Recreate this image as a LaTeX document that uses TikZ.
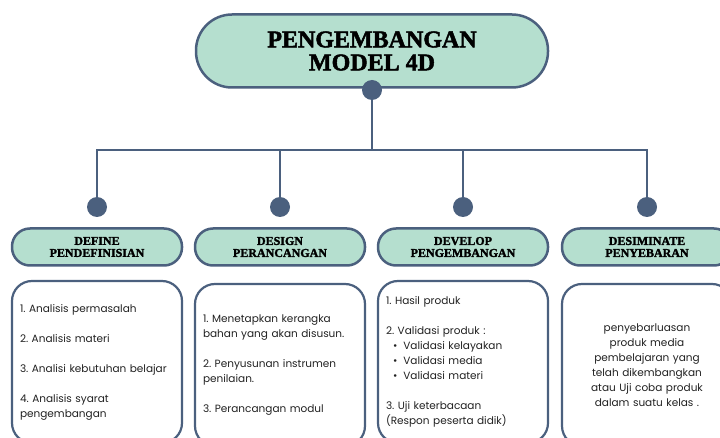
\documentclass[tikz,border=0pt]{standalone}
\usepackage{fontspec}
\setmainfont{Poppins}
\newfontfamily\headfont{Liberation Serif}[BoldFeatures={FakeBold=2}]
\usepackage{tikz}
\usetikzlibrary{calc}
\definecolor{mint}{HTML}{B5DFCF}
\definecolor{slate}{HTML}{4B607E}
\definecolor{ink}{HTML}{222222}
\newcommand{\drawlink}{\draw[slate, line width=2.5pt]}
\frenchspacing

\tikzset{
    titlepill/.style={draw=slate, line width=2.5pt, fill=mint, rounded corners=36pt,
        minimum width=352pt, minimum height=73pt, align=center,
        font=\headfont\bfseries\fontsize{24}{23}\selectfont},
    steppill/.style={draw=slate, line width=2.5pt, fill=mint, rounded corners=18pt,
        minimum width=170pt, minimum height=37pt, align=center,
        font=\headfont\bfseries\fontsize{12}{12}\selectfont},
    stepbox/.style={draw=slate, line width=2.2pt, fill=white, rounded corners=20pt,
        text width=154pt, inner xsep=8pt, minimum height=162pt, align=left,
        text=ink, font=\fontsize{10.5}{15}\selectfont},
    dot/.style={circle, fill=slate, minimum size=20pt, inner sep=0pt}
}

\begin{document}
\begin{tikzpicture}[x=1pt, y=-1pt]
    \useasboundingbox (0,0) rectangle (720,438);

    % Draw title
    \node[titlepill] (title) at (372,51) {PENGEMBANGAN\\MODEL 4D};
    \node[dot] (topdot) at (372,90) {};
    \coordinate (bar) at (372,150);

    % Draw branches
    \foreach \name/\x in {define/97, design/280, develop/463, desiminate/647} {
        \node[dot] (\name dot) at (\x,207) {};
        \drawlink (\name dot.north) |- (bar);
    }
    \drawlink (topdot.south) -- (bar);

    % Draw steps
    \node[steppill] (define) at (97,247) {DEFINE\\PENDEFINISIAN};
    \node[steppill] (design) at (280,247) {DESIGN\\PERANCANGAN};
    \node[steppill] (develop) at (463,247) {DEVELOP\\PENGEMBANGAN};
    \node[steppill] (desiminate) at (647,247) {DESIMINATE\\PENYEBARAN};

    % Draw details
    \node[stepbox] (definebox) at (97,362) {1. Analisis permasalah\\[15pt]
        2. Analisis materi\\[15pt]
        3. Analisi kebutuhan belajar\\[15pt]
        4. Analisis syarat\\pengembangan};
    \node[stepbox] (designbox) at (280,365) {1. Menetapkan kerangka\\bahan yang akan disusun.\\[15pt]
        2. Penyusunan instrumen\\penilaian.\\[15pt]
        3. Perancangan modul};
    \node[stepbox] (developbox) at (463,362) {1. Hasil produk\\[15pt]
        2. Validasi produk :\\
        \hspace*{7pt}\textbullet\hspace{6pt}Validasi kelayakan\\
        \hspace*{7pt}\textbullet\hspace{6pt}Validasi media\\
        \hspace*{7pt}\textbullet\hspace{6pt}Validasi materi\\[15pt]
        3. Uji keterbacaan\\(Respon peserta didik)};
    \node[stepbox, align=center] (desiminatebox) at (647,365) {penyebarluasan\\produk media\\pembelajaran yang\\telah dikembangkan\\atau Uji coba produk\\dalam suatu kelas .};
\end{tikzpicture}
\end{document}
